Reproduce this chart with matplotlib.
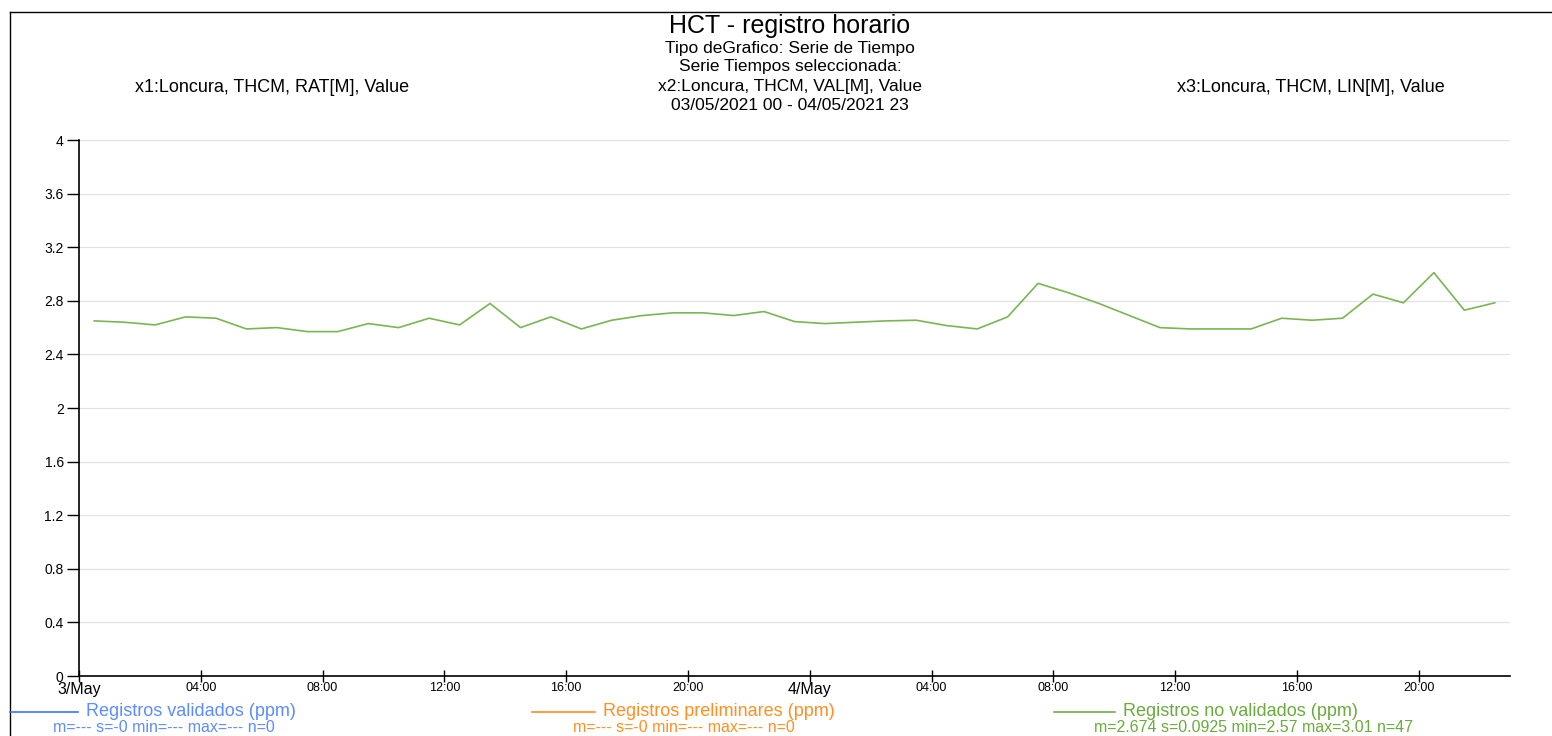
#!/usr/bin/env python3
"""Serie de tiempo HCT - registro horario (Loncura, THCM)."""

import matplotlib
matplotlib.use("Agg")
import matplotlib.pyplot as plt
from matplotlib.lines import Line2D
import pandas as pd

plt.rcParams["font.family"] = ["Liberation Sans", "DejaVu Sans"]

# valores horarios (ppm), registros no validados, 03/05 00h .. 04/05 22h
valores = [
    2.65, 2.64, 2.62, 2.68, 2.67, 2.59, 2.60, 2.57, 2.57, 2.63,
    2.60, 2.67, 2.62, 2.78, 2.60, 2.68, 2.59, 2.655, 2.69, 2.71,
    2.71, 2.69, 2.72, 2.645, 2.63, 2.64, 2.65, 2.655, 2.615, 2.59,
    2.68, 2.93, 2.86, 2.78, 2.69, 2.60, 2.59, 2.59, 2.59, 2.67,
    2.655, 2.67, 2.85, 2.785, 3.01, 2.73, 2.785,
]
horas = pd.date_range("2021-05-03 00:30", periods=len(valores), freq="h")
y_ticks = [0, 0.4, 0.8, 1.2, 1.6, 2, 2.4, 2.8, 3.2, 3.6, 4]
x_ticks = pd.date_range("2021-05-03 00:00", "2021-05-04 20:00", freq="4h")
x_labels = [f"{t.day}/May" if t.hour == 0 else t.strftime("%H:%M") for t in x_ticks]

series = [
    ("Registros validados (ppm)", "m=--- s=-0 min=--- max=--- n=0", "#3f73ff", "#5c8cff"),
    ("Registros preliminares (ppm)", "m=--- s=-0 min=--- max=--- n=0", "#ff8a1c", "#ff8f22"),
    ("Registros no validados (ppm)", "m=2.674 s=0.0925 min=2.57 max=3.01 n=47", "#6fae45", "#6aab3d"),
]

W, H = 1552, 736
fig = plt.figure(figsize=(W / 100, H / 100), dpi=100)


def px(x, y):
    return x / W, 1 - y / H


# marco exterior
fig.add_artist(Line2D([10 / W, 1], [1 - 12 / H] * 2, color="black", lw=1.0))
fig.add_artist(Line2D([10 / W] * 2, [1 - 12 / H, 0], color="black", lw=1.0))

ax = fig.add_axes([79 / W, 60 / H, (1510 - 79) / W, (676 - 140) / H])
ax.plot(horas, valores, color="#7ab553", lw=1.2)

ax.set_xlim(pd.Timestamp("2021-05-03 00:00"), pd.Timestamp("2021-05-04 23:00"))
ax.set_ylim(0, 4)
ax.set_yticks(y_ticks, [f"{v:g}" for v in y_ticks])
ax.set_xticks(x_ticks, x_labels)
for lbl in ax.get_xticklabels():
    lbl.set_fontsize(11.5 if "May" in lbl.get_text() else 9)
ax.tick_params(axis="y", direction="out", length=9, width=1, labelsize=10, pad=2)
ax.tick_params(axis="x", direction="inout", length=9, width=1, pad=0)

ax.grid(axis="y", color="#e3e3e3", lw=0.9)
ax.set_axisbelow(True)
for side in ("top", "right"):
    ax.spines[side].set_visible(False)
for side in ("left", "bottom"):
    ax.spines[side].set_linewidth(1.2)

# titulos
fig.text(*px(790, 26), "HCT - registro horario", fontsize=18, ha="center", va="center")
sub = ["Tipo deGrafico: Serie de Tiempo", "Serie Tiempos seleccionada:",
       "x2:Loncura, THCM, VAL[M], Value", "03/05/2021 00 - 04/05/2021 23"]
for i, s in enumerate(sub):
    fig.text(*px(790, 48 + i * 19), s, fontsize=12.5, ha="center", va="center")
fig.text(*px(272, 87), "x1:Loncura, THCM, RAT[M], Value", fontsize=13, ha="center", va="center")
fig.text(*px(1311, 87), "x3:Loncura, THCM, LIN[M], Value", fontsize=13, ha="center", va="center")

# leyenda inferior
leg_x = [(10, 78), (532, 595), (1054, 1115)]
stats_cx = [164, 684, 1254]
for (nombre, stats, c_line, c_txt), (x0, x1), cx in zip(series, leg_x, stats_cx):
    fig.add_artist(Line2D([x0 / W, x1 / W], [1 - 712 / H] * 2, color=c_line, lw=1.2))
    fig.text(*px(x1 + 8, 712), nombre, fontsize=13, color=c_txt, ha="left", va="center")
    fig.text(*px(cx, 728), stats, fontsize=11.5, color=c_txt, ha="center", va="center")

fig.savefig("out.png", dpi=100, facecolor="white")
